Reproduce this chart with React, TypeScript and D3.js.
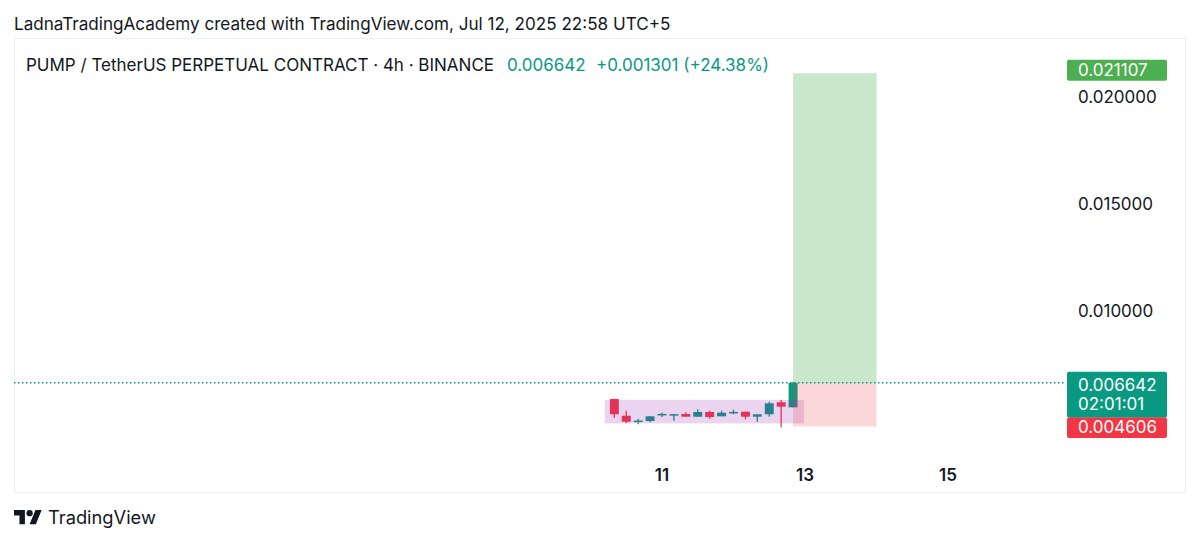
import React from 'react';
import * as d3 from 'd3';

// ---- Data ----
const candleTimes = [
  '2025-07-10T08:00:00Z', '2025-07-10T12:00:00Z', '2025-07-10T16:00:00Z', '2025-07-10T20:00:00Z',
  '2025-07-11T00:00:00Z', '2025-07-11T04:00:00Z', '2025-07-11T08:00:00Z', '2025-07-11T12:00:00Z',
  '2025-07-11T16:00:00Z', '2025-07-11T20:00:00Z', '2025-07-12T00:00:00Z', '2025-07-12T04:00:00Z',
  '2025-07-12T08:00:00Z', '2025-07-12T12:00:00Z', '2025-07-12T16:00:00Z', '2025-07-12T20:00:00Z',
];
const opens = [0.005888, 0.005107, 0.00486, 0.00486, 0.005173, 0.005173, 0.005187, 0.005061, 0.00528, 0.005079, 0.00527, 0.005294, 0.005061, 0.005173, 0.005734, 0.0055];
const highs = [0.0059, 0.005341, 0.004967, 0.005079, 0.005248, 0.00518, 0.005266, 0.005407, 0.005341, 0.005341, 0.005388, 0.005294, 0.005173, 0.005762, 0.005841, 0.006696];
const lows = [0.005014, 0.004752, 0.004706, 0.004799, 0.005047, 0.004874, 0.005061, 0.005061, 0.004967, 0.005079, 0.005173, 0.004939, 0.004827, 0.005061, 0.004565, 0.0055];
const closes = [0.005173, 0.004827, 0.00488, 0.005079, 0.00519, 0.00518, 0.005061, 0.00528, 0.005047, 0.005248, 0.005285, 0.005061, 0.005173, 0.005687, 0.005528, 0.006642];

const priceTicks = [0.01, 0.015, 0.02];
const dayTicks = ['2025-07-11T00:00:00Z', '2025-07-13T00:00:00Z', '2025-07-15T00:00:00Z'];
const dayLabels = ['11', '13', '15'];

// Rectangle drawing (range highlight)
const rectTimes = ['2025-07-10T04:50:00Z', '2025-07-12T23:40:00Z'];
const rectPrices = [0.00585, 0.00475];

// Long position tool
const posTimes = ['2025-07-12T20:00:00Z', '2025-07-14T00:00:00Z'];
const posEntry = 0.006642;
const posTarget = 0.021107;
const posStop = 0.004606;

const titleText = 'LadnaTradingAcademy created with TradingView.com, Jul 12, 2025 22:58 UTC+5';
const symbolText = 'PUMP / TetherUS PERPETUAL CONTRACT · 4h · BINANCE';
const lastPriceText = '0.006642';
const changeText = '+0.001301 (+24.38%)';
const countdownText = '02:01:01';

const UP = '#089981';
const DOWN = '#f23645';
const FONT = 'Inter, Roboto, sans-serif';

export default function App() {
  const W = 1200, H = 544;
  const x = d3.scaleUtc()
    .domain([new Date('2025-07-11T00:00:00Z'), new Date('2025-07-13T00:00:00Z')])
    .range([662, 805]);
  const y = d3.scaleLinear().domain([0.01, 0.02]).range([311, 97]);

  const step = x(new Date('2025-07-11T04:00:00Z')) - x(new Date('2025-07-11T00:00:00Z'));
  const bw = step * 0.75;
  const fmt = d3.format('.6f');

  const lastY = y(closes[closes.length - 1]);
  const rx0 = x(new Date(rectTimes[0])), rx1 = x(new Date(rectTimes[1]));
  const px0 = x(new Date(posTimes[0])), px1 = x(new Date(posTimes[1]));

  const labelX = 1067, labelW = 100, textX = 1078;
  const fs = 17;

  return (
    <svg width={W} height={H} style={{ display: 'block', position: 'absolute', left: 0, top: 0, background: '#fff' }}
      fontFamily={FONT}>
      <rect x={0} y={0} width={W} height={H} fill="#fff" />
      {/* header */}
      <text x={14} y={30} fontSize={17.1} fill="#131722">{titleText}</text>
      <rect x={14.5} y={38.5} width={1171} height={454} fill="none" stroke="#eef0f3" strokeWidth={1} />
      <text x={26} y={71} fontSize={fs} fill="#131722">{symbolText}</text>
      <text x={507} y={71} fontSize={fs} fill={UP}>{lastPriceText}</text>
      <text x={596} y={71} fontSize={fs} fill={UP}>{changeText}</text>

      {/* candles */}
      {candleTimes.map((t, i) => {
        const cx = x(new Date(t));
        const up = closes[i] >= opens[i];
        const c = up ? UP : DOWN;
        const top = y(Math.max(opens[i], closes[i]));
        const bot = y(Math.min(opens[i], closes[i]));
        return (
          <g key={t}>
            <line x1={cx} x2={cx} y1={y(highs[i])} y2={y(lows[i])} stroke={c} strokeWidth={1.3} />
            <rect x={cx - bw / 2} y={top} width={bw} height={Math.max(1.5, bot - top)} fill={c} />
          </g>
        );
      })}

      {/* rectangle drawing */}
      <rect x={rx0} y={y(rectPrices[0])} width={rx1 - rx0} height={y(rectPrices[1]) - y(rectPrices[0])}
        fill="rgba(156,39,176,0.2)" />

      {/* long position */}
      <rect x={px0} y={y(posTarget)} width={px1 - px0} height={y(posEntry) - y(posTarget)} fill="rgba(76,175,80,0.3)" />
      <rect x={px0} y={y(posEntry)} width={px1 - px0} height={y(posStop) - y(posEntry)} fill="rgba(242,54,69,0.2)" />

      {/* last price line */}
      <line x1={14} x2={1064} y1={lastY} y2={lastY} stroke={UP} strokeWidth={1.5} strokeDasharray="1.5 2.5" />

      {/* price axis */}
      {priceTicks.map((p) => (
        <text key={p} x={textX} y={y(p)} dy="0.35em" fontSize={fs} fill="#131722">{fmt(p)}</text>
      ))}
      <rect x={labelX} y={y(posTarget) - 13.5} width={labelW} height={21} rx={2} fill="#4caf50" />
      <text x={textX} y={y(posTarget) - 3} dy="0.35em" fontSize={fs} fill="#fff">{fmt(posTarget)}</text>

      <rect x={labelX} y={lastY - 11} width={labelW} height={46} rx={2} fill={UP} />
      <text x={textX} y={lastY + 2.5} dy="0.35em" fontSize={fs} fill="#fff">{fmt(closes[closes.length - 1])}</text>
      <text x={textX} y={lastY + 21} dy="0.35em" fontSize={fs} fill="#fff">{countdownText}</text>

      <rect x={labelX} y={y(posStop) - 9} width={labelW} height={20.5} rx={2} fill={DOWN} />
      <text x={textX} y={y(posStop) + 1} dy="0.35em" fontSize={fs} fill="#fff">{fmt(posStop)}</text>

      {/* time axis */}
      {dayTicks.map((d, i) => (
        <text key={d} x={x(new Date(d))} y={475} dy="0.35em" textAnchor="middle" fontSize={fs} fontWeight={600} fill="#131722">
          {dayLabels[i]}
        </text>
      ))}

      {/* footer logo */}
      <g transform="translate(14,507) scale(0.78)" fill="#131722">
        <path d="M14 22H7V11H0V4h14v18zM28 22h-8l7.5-18h8L28 22z" />
        <circle cx={20} cy={8} r={4} />
      </g>
      <text x={48} y={524} fontSize={18.3} fill="#131722">TradingView</text>
    </svg>
  );
}
